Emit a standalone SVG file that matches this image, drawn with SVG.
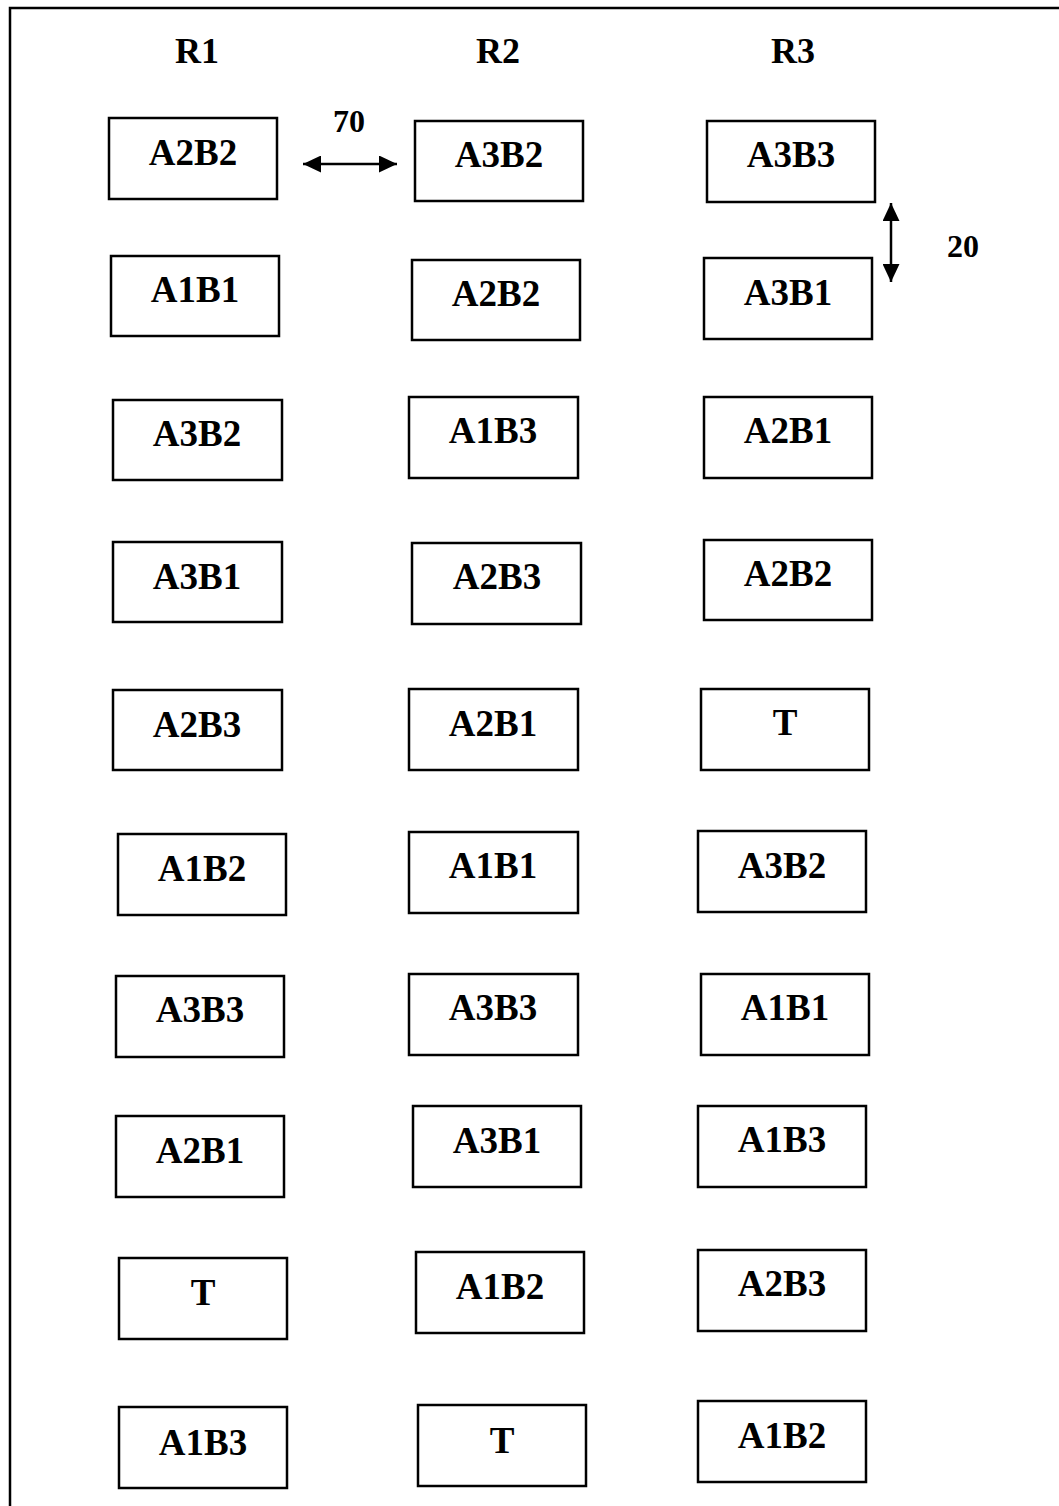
<svg xmlns="http://www.w3.org/2000/svg" width="1059" height="1506" viewBox="0 0 1059 1506">
<style>
.box{fill:#fff;stroke:#000;stroke-width:2.5}
.lbl{font-family:"Liberation Serif","Times New Roman",serif;font-weight:bold;font-size:37px;text-anchor:middle;fill:#000}
.hdr{font-family:"Liberation Serif","Times New Roman",serif;font-weight:bold;font-size:36px;text-anchor:middle;fill:#000}
.dim{font-family:"Liberation Serif","Times New Roman",serif;font-weight:bold;font-size:32px;text-anchor:middle;fill:#000}
.conn{stroke:#000;stroke-width:2.5;fill:none}
</style>
<defs>
<marker id="ah" markerUnits="userSpaceOnUse" markerWidth="19" markerHeight="17" refX="18" refY="8.5" orient="auto-start-reverse">
<path d="M0,0 L18,8.5 L0,17 z" fill="#000"/>
</marker>
</defs>
<rect x="0" y="0" width="1059" height="1506" fill="#fff"/>
<rect id="frame" x="10" y="8" width="1100" height="1600" fill="none" stroke="#000" stroke-width="2.5"/>
<g id="headers">
<text class="hdr" x="197" y="63">R1</text>
<text class="hdr" x="498" y="63">R2</text>
<text class="hdr" x="793" y="63">R3</text>
</g>
<g id="r1">
<g id="r1n1"><rect class="box" x="109" y="118" width="168" height="81"/><text class="lbl" x="193" y="165">A2B2</text></g>
<g id="r1n2"><rect class="box" x="111" y="256" width="168" height="80"/><text class="lbl" x="195" y="302">A1B1</text></g>
<g id="r1n3"><rect class="box" x="113" y="400" width="169" height="80"/><text class="lbl" x="197" y="446">A3B2</text></g>
<g id="r1n4"><rect class="box" x="113" y="542" width="169" height="80"/><text class="lbl" x="197" y="589">A3B1</text></g>
<g id="r1n5"><rect class="box" x="113" y="690" width="169" height="80"/><text class="lbl" x="197" y="737">A2B3</text></g>
<g id="r1n6"><rect class="box" x="118" y="834" width="168" height="81"/><text class="lbl" x="202" y="881">A1B2</text></g>
<g id="r1n7"><rect class="box" x="116" y="976" width="168" height="81"/><text class="lbl" x="200" y="1022">A3B3</text></g>
<g id="r1n8"><rect class="box" x="116" y="1116" width="168" height="81"/><text class="lbl" x="200" y="1163">A2B1</text></g>
<g id="r1n9"><rect class="box" x="119" y="1258" width="168" height="81"/><text class="lbl" x="203" y="1305">T</text></g>
<g id="r1n10"><rect class="box" x="119" y="1407" width="168" height="81"/><text class="lbl" x="203" y="1455">A1B3</text></g>
</g>
<g id="r2">
<g id="r2n1"><rect class="box" x="415" y="121" width="168" height="80"/><text class="lbl" x="499" y="167">A3B2</text></g>
<g id="r2n2"><rect class="box" x="412" y="260" width="168" height="80"/><text class="lbl" x="496" y="306">A2B2</text></g>
<g id="r2n3"><rect class="box" x="409" y="397" width="169" height="81"/><text class="lbl" x="493" y="443">A1B3</text></g>
<g id="r2n4"><rect class="box" x="412" y="543" width="169" height="81"/><text class="lbl" x="497" y="589">A2B3</text></g>
<g id="r2n5"><rect class="box" x="409" y="689" width="169" height="81"/><text class="lbl" x="493" y="736">A2B1</text></g>
<g id="r2n6"><rect class="box" x="409" y="832" width="169" height="81"/><text class="lbl" x="493" y="878">A1B1</text></g>
<g id="r2n7"><rect class="box" x="409" y="974" width="169" height="81"/><text class="lbl" x="493" y="1020">A3B3</text></g>
<g id="r2n8"><rect class="box" x="413" y="1106" width="168" height="81"/><text class="lbl" x="497" y="1153">A3B1</text></g>
<g id="r2n9"><rect class="box" x="416" y="1252" width="168" height="81"/><text class="lbl" x="500" y="1299">A1B2</text></g>
<g id="r2n10"><rect class="box" x="418" y="1405" width="168" height="81"/><text class="lbl" x="502" y="1453">T</text></g>
</g>
<g id="r3">
<g id="r3n1"><rect class="box" x="707" y="121" width="168" height="81"/><text class="lbl" x="791" y="167">A3B3</text></g>
<g id="r3n2"><rect class="box" x="704" y="258" width="168" height="81"/><text class="lbl" x="788" y="305">A3B1</text></g>
<g id="r3n3"><rect class="box" x="704" y="397" width="168" height="81"/><text class="lbl" x="788" y="443">A2B1</text></g>
<g id="r3n4"><rect class="box" x="704" y="540" width="168" height="80"/><text class="lbl" x="788" y="586">A2B2</text></g>
<g id="r3n5"><rect class="box" x="701" y="689" width="168" height="81"/><text class="lbl" x="785" y="735">T</text></g>
<g id="r3n6"><rect class="box" x="698" y="831" width="168" height="81"/><text class="lbl" x="782" y="878">A3B2</text></g>
<g id="r3n7"><rect class="box" x="701" y="974" width="168" height="81"/><text class="lbl" x="785" y="1020">A1B1</text></g>
<g id="r3n8"><rect class="box" x="698" y="1106" width="168" height="81"/><text class="lbl" x="782" y="1152">A1B3</text></g>
<g id="r3n9"><rect class="box" x="698" y="1250" width="168" height="81"/><text class="lbl" x="782" y="1296">A2B3</text></g>
<g id="r3n10"><rect class="box" x="698" y="1401" width="168" height="81"/><text class="lbl" x="782" y="1448">A1B2</text></g>
</g>
<g id="connectors">
<line class="conn" x1="303" y1="164" x2="397" y2="164" marker-start="url(#ah)" marker-end="url(#ah)"/>
<line class="conn" x1="891" y1="203" x2="891" y2="282" marker-start="url(#ah)" marker-end="url(#ah)"/>
</g>
<g id="dims">
<text class="dim" x="349" y="132">70</text>
<text class="dim" x="963" y="257">20</text>
</g>
</svg>
